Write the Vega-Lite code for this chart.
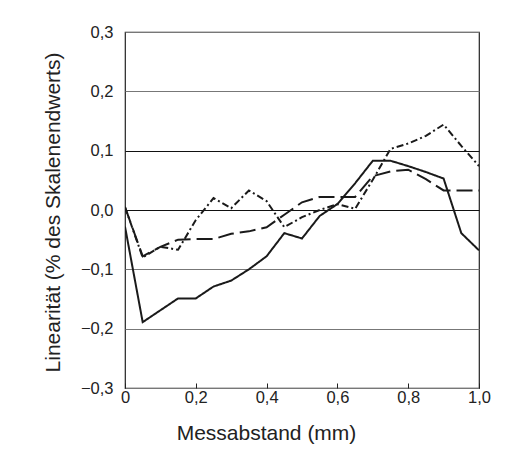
{
  "$schema": "https://vega.github.io/schema/vega-lite/v6.json",
  "width": 354,
  "height": 356,
  "autosize": {"type": "none"},
  "padding": {"left": 125, "top": 32, "right": 28, "bottom": 70},
  "background": "white",
  "config": {
    "font": "Liberation Sans",
    "view": {"stroke": "#222", "strokeWidth": 1.2}
  },
  "data": {
    "values": [
      {"x": 0.0, "y": -0.028, "s": "A"},
      {"x": 0.05, "y": -0.189, "s": "A"},
      {"x": 0.1, "y": -0.169, "s": "A"},
      {"x": 0.15, "y": -0.149, "s": "A"},
      {"x": 0.2, "y": -0.149, "s": "A"},
      {"x": 0.25, "y": -0.129, "s": "A"},
      {"x": 0.3, "y": -0.119, "s": "A"},
      {"x": 0.35, "y": -0.1, "s": "A"},
      {"x": 0.4, "y": -0.078, "s": "A"},
      {"x": 0.45, "y": -0.039, "s": "A"},
      {"x": 0.5, "y": -0.048, "s": "A"},
      {"x": 0.55, "y": -0.01, "s": "A"},
      {"x": 0.6, "y": 0.01, "s": "A"},
      {"x": 0.65, "y": 0.045, "s": "A"},
      {"x": 0.7, "y": 0.083, "s": "A"},
      {"x": 0.75, "y": 0.083, "s": "A"},
      {"x": 0.8, "y": 0.074, "s": "A"},
      {"x": 0.85, "y": 0.064, "s": "A"},
      {"x": 0.9, "y": 0.053, "s": "A"},
      {"x": 0.95, "y": -0.039, "s": "A"},
      {"x": 1.0, "y": -0.068, "s": "A"},

      {"x": 0.0, "y": 0.005, "s": "B"},
      {"x": 0.05, "y": -0.078, "s": "B"},
      {"x": 0.1, "y": -0.062, "s": "B"},
      {"x": 0.15, "y": -0.05, "s": "B"},
      {"x": 0.2, "y": -0.049, "s": "B"},
      {"x": 0.25, "y": -0.049, "s": "B"},
      {"x": 0.3, "y": -0.04, "s": "B"},
      {"x": 0.35, "y": -0.036, "s": "B"},
      {"x": 0.4, "y": -0.029, "s": "B"},
      {"x": 0.45, "y": -0.008, "s": "B"},
      {"x": 0.5, "y": 0.013, "s": "B"},
      {"x": 0.55, "y": 0.022, "s": "B"},
      {"x": 0.6, "y": 0.022, "s": "B"},
      {"x": 0.65, "y": 0.022, "s": "B"},
      {"x": 0.7, "y": 0.057, "s": "B"},
      {"x": 0.75, "y": 0.065, "s": "B"},
      {"x": 0.8, "y": 0.068, "s": "B"},
      {"x": 0.85, "y": 0.052, "s": "B"},
      {"x": 0.9, "y": 0.033, "s": "B"},
      {"x": 0.95, "y": 0.033, "s": "B"},
      {"x": 1.0, "y": 0.033, "s": "B"},

      {"x": 0.0, "y": 0.005, "s": "C"},
      {"x": 0.05, "y": -0.08, "s": "C"},
      {"x": 0.1, "y": -0.062, "s": "C"},
      {"x": 0.15, "y": -0.067, "s": "C"},
      {"x": 0.2, "y": -0.017, "s": "C"},
      {"x": 0.25, "y": 0.02, "s": "C"},
      {"x": 0.3, "y": 0.003, "s": "C"},
      {"x": 0.35, "y": 0.033, "s": "C"},
      {"x": 0.4, "y": 0.015, "s": "C"},
      {"x": 0.45, "y": -0.029, "s": "C"},
      {"x": 0.5, "y": -0.012, "s": "C"},
      {"x": 0.55, "y": 0.0, "s": "C"},
      {"x": 0.6, "y": 0.01, "s": "C"},
      {"x": 0.65, "y": 0.002, "s": "C"},
      {"x": 0.7, "y": 0.051, "s": "C"},
      {"x": 0.75, "y": 0.103, "s": "C"},
      {"x": 0.8, "y": 0.112, "s": "C"},
      {"x": 0.85, "y": 0.125, "s": "C"},
      {"x": 0.9, "y": 0.144, "s": "C"},
      {"x": 0.95, "y": 0.108, "s": "C"},
      {"x": 1.0, "y": 0.074, "s": "C"}
    ]
  },
  "mark": {"type": "line", "strokeWidth": 2, "color": "#1a1a1a", "clip": true},
  "encoding": {
    "x": {
      "field": "x",
      "type": "quantitative",
      "scale": {"domain": [0, 1], "nice": false, "zero": false},
      "axis": {
        "title": "Messabstand (mm)",
        "values": [0, 0.2, 0.4, 0.6, 0.8, 1.0],
        "grid": false,
        "domain": false,
        "tickSize": -5,
        "tickColor": "#222",
        "labelPadding": 6,
        "labelFontSize": 16.5,
        "labelColor": "#222",
        "labelExpr": "datum.value == 0 ? '0' : replace(format(datum.value, '.1f'), '.', ',')",
        "labelFlush": false,
        "titleFontSize": 21,
        "titleFontWeight": "normal",
        "titleColor": "#222",
        "titleX": 141,
        "titleY": 51,
        "titleBaseline": "alphabetic"
      }
    },
    "y": {
      "field": "y",
      "type": "quantitative",
      "scale": {"domain": [-0.3, 0.3], "nice": false, "zero": false},
      "axis": {
        "title": "Linearität (% des Skalenendwerts)",
        "values": [-0.3, -0.2, -0.1, 0, 0.1, 0.2, 0.3],
        "grid": true,
        "gridColor": {"condition": {"test": "abs(datum.value) < 0.001 || abs(datum.value - 0.1) < 0.001", "value": "#111"}, "value": "#777"},
        "gridOpacity": 1,
        "gridWidth": 1.2,
        "domain": false,
        "ticks": false,
        "labelPadding": 12,
        "labelFontSize": 16.5,
        "labelColor": "#222",
        "labelExpr": "replace(format(datum.value, '.1f'), '.', ',')",
        "labelFlush": false,
        "titleFontSize": 21,
        "titleFontWeight": "normal",
        "titleColor": "#222",
        "titleX": -72,
        "titleY": 180,
        "titleAngle": -90,
        "titleAlign": "center",
        "titleBaseline": "middle"
      }
    },
    "strokeDash": {
      "field": "s",
      "type": "nominal",
      "scale": {"domain": ["A", "B", "C"], "range": [[1, 0], [16, 6], [7, 3, 2, 3]]},
      "legend": null
    }
  }
}
